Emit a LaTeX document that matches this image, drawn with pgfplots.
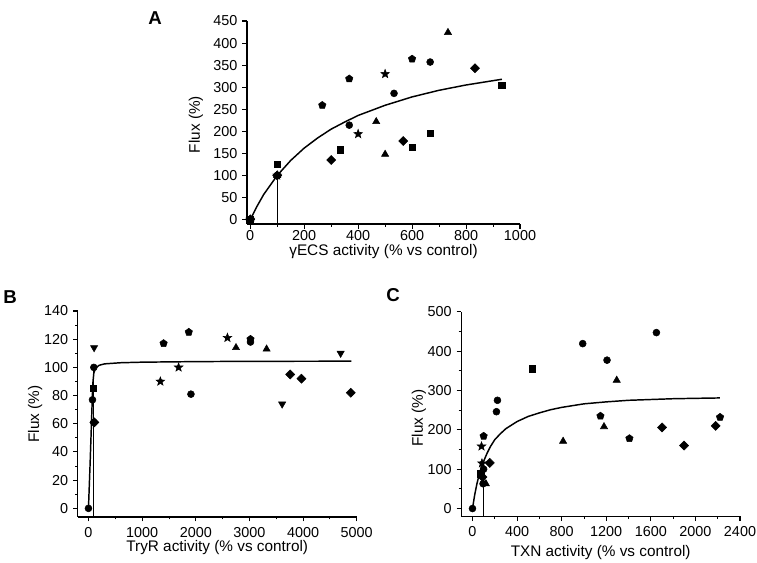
\documentclass[border=0pt]{standalone}
\usepackage{fontspec}
\setmainfont{Liberation Sans}
\usepackage{pgfplots}
\pgfplotsset{compat=1.18}
\usetikzlibrary{plotmarks}
\pgfdeclareplotmark{fstar}{%
  \pgfpathmoveto{\pgfpointpolar{90}{\pgfplotmarksize}}%
  \pgfpathlineto{\pgfpointpolar{126}{0.42\pgfplotmarksize}}%
  \pgfpathlineto{\pgfpointpolar{162}{\pgfplotmarksize}}%
  \pgfpathlineto{\pgfpointpolar{198}{0.42\pgfplotmarksize}}%
  \pgfpathlineto{\pgfpointpolar{234}{\pgfplotmarksize}}%
  \pgfpathlineto{\pgfpointpolar{270}{0.42\pgfplotmarksize}}%
  \pgfpathlineto{\pgfpointpolar{306}{\pgfplotmarksize}}%
  \pgfpathlineto{\pgfpointpolar{342}{0.42\pgfplotmarksize}}%
  \pgfpathlineto{\pgfpointpolar{18}{\pgfplotmarksize}}%
  \pgfpathlineto{\pgfpointpolar{54}{0.42\pgfplotmarksize}}%
  \pgfpathclose\pgfusepathqfillstroke}
\pgfplotsset{
  common/.style={scale only axis, axis x line*=bottom, axis y line*=left,
    tick align=outside, axis line style={line width=1.1pt, black},
    major tick style={line width=0.8pt, black}, minor tick style={line width=0.6pt, black},
    major tick length=3.5pt, minor tick length=2pt,
    tick label style={font=\fontsize{10.8}{12}\selectfont},
    xticklabel style={inner sep=1pt},
    yticklabel style={inner sep=2pt, xshift=-1.5pt},
    label style={font=\fontsize{11.5}{13}\selectfont, inner sep=0pt},
    /pgf/number format/assume math mode=true, /pgf/number format/1000 sep={},
    clip=false},
  sq/.style={only marks, mark=square*, mark size=2.4pt, black},
  ci/.style={only marks, mark=*, mark size=2.6pt, black},
  tr/.style={only marks, mark=triangle*, mark size=3.1pt, black},
  td/.style={only marks, mark=triangle*, mark options={rotate=180}, mark size=3.1pt, black},
  di/.style={only marks, mark=square*, mark options={rotate=45}, mark size=2.4pt, black},
  pe/.style={only marks, mark=pentagon*, mark size=2.9pt, black},
  st/.style={only marks, mark=fstar, mark size=3.4pt, black},
  fit/.style={no marks, line width=1.1pt, black},
  vl/.style={no marks, line width=0.5pt, black},
}
\begin{document}
\begin{tikzpicture}
\useasboundingbox (0,0) rectangle (567.75pt,421.5pt);
% Panel A
\begin{axis}[common, at={(185.25pt,253.5pt)}, anchor=south west,
  width=204.75pt, height=152.25pt,
  xmin=-12, xmax=1000, ymin=-10, ymax=450,
  xtick={0,200,...,1000}, minor x tick num=1,
  ytick={0,50,...,450},
  xlabel style={at={(axis description cs:0.5,-0.135)}, anchor=center},
  ylabel style={at={(axis description cs:-0.187,0.49)}, anchor=center},
  xlabel={γECS activity (\% vs control)}, ylabel={Flux (\%)}]
\addplot[vl] coordinates {(100,-10) (100,100)};
\addplot[fit] coordinates {(0,0) (25,30) (50,57) (100,100) (150,134) (200,162) (250,185) (300,205) (350,221) (400,236) (500,259) (600,278) (700,293) (800,305) (933,318)};
\addplot[sq] coordinates {(0,0) (100,126) (333,158) (600,164) (667,195) (933,305)};
\addplot[ci] coordinates {(0,0) (100,100) (367,214) (533,286) (667,357)};
\addplot[pe] coordinates {(0,0) (100,100) (267,259) (367,319) (600,364)};
\addplot[di] coordinates {(0,0) (100,100) (300,135) (567,178) (833,343)};
\addplot[tr] coordinates {(0,0) (100,100) (467,222) (500,148) (733,424)};
\addplot[st] coordinates {(0,0) (100,100) (400,194) (500,330)};
\end{axis}
% Panel B
\begin{axis}[common, at={(58.3pt,33.9pt)}, anchor=south west,
  width=209.25pt, height=154.35pt,
  xmin=-200, xmax=5000, ymin=-6, ymax=140,
  xtick={0,1000,...,5000}, minor x tick num=1,
  ytick={0,20,...,140}, minor y tick num=1,
  xticklabel style={yshift=-3pt},
  xlabel style={at={(axis description cs:0.5,-0.15)}, anchor=center},
  ylabel style={at={(axis description cs:-0.153,0.5)}, anchor=center},
  xlabel={TryR activity (\% vs control)}, ylabel={Flux (\%)}]
\addplot[vl] coordinates {(100,-6) (100,100)};
\addplot[fit] coordinates {(0,0) (30,31) (60,65) (80,88) (100,96) (130,99.5) (200,101.5) (300,102.5) (600,103.3) (1000,103.7) (2000,104.1) (3000,104.3) (4900,104.4)};
\addplot[ci] coordinates {(0,0) (100,100) (75,77) (100,61) (1910,81) (3020,118)};
\addplot[sq] coordinates {(90,85)};
\addplot[di] coordinates {(110,61) (3760,95) (3970,92) (4890,82)};
\addplot[pe] coordinates {(1400,117) (1870,125) (3020,120)};
\addplot[st] coordinates {(1340,90) (1680,100) (2590,121)};
\addplot[tr] coordinates {(2750,114) (3320,113)};
\addplot[td] coordinates {(105,114) (3610,74) (4700,110)};
\end{axis}
% Panel C
\begin{axis}[common, at={(346pt,34.2pt)}, anchor=south west,
  width=209pt, height=153.5pt,
  xmin=-100, xmax=2400, ymin=-20, ymax=500,
  xtick={0,400,...,2400}, minor x tick num=1,
  ytick={0,100,...,500}, minor y tick num=1,
  xticklabel style={yshift=-2.5pt},
  xlabel style={at={(axis description cs:0.5,-0.178)}, anchor=center},
  ylabel style={at={(axis description cs:-0.152,0.48)}, anchor=center},
  xlabel={TXN activity (\% vs control)}, ylabel={Flux (\%)}]
\addplot[vl] coordinates {(100,-20) (100,100)};
\addplot[fit] coordinates {(0,0) (20,35) (40,63) (60,86) (80,105) (100,120) (130,140) (160,157) (200,175) (250,190) (300,203) (400,221) (500,234) (600,243) (700,251) (800,257) (1000,266) (1200,271) (1400,275) (1600,277) (1800,279) (2000,280) (2220,281)};
\addplot[ci] coordinates {(0,0) (100,100) (95,63) (215,246) (224,275) (989,419) (1207,377) (1650,447)};
\addplot[sq] coordinates {(75,88) (538,355)};
\addplot[tr] coordinates {(120,63) (813,171) (1180,208) (1294,326)};
\addplot[pe] coordinates {(100,184) (1148,235) (1408,178) (2221,232)};
\addplot[di] coordinates {(90,80) (155,116) (1701,206) (1898,160) (2182,210)};
\addplot[st] coordinates {(81,158) (85,115)};
\end{axis}
\node[font=\fontsize{14}{16}\selectfont\bfseries] at (116.25pt,408pt) {A};
\node[font=\fontsize{14}{16}\selectfont\bfseries] at (7.5pt,198.75pt) {B};
\node[font=\fontsize{14}{16}\selectfont\bfseries] at (294.75pt,200.25pt) {C};
\end{tikzpicture}
\end{document}
